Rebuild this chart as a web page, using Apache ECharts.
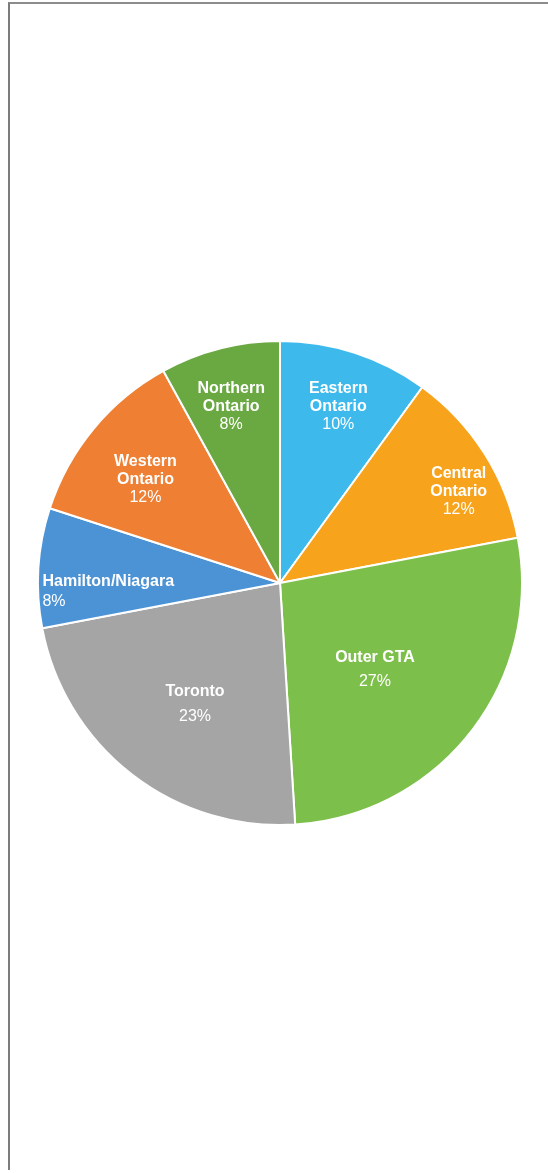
<!DOCTYPE html>
<html>
<head>
<meta charset="utf-8">
<script src="https://cdn.jsdelivr.net/npm/echarts@6/dist/echarts.min.js"></script>
<style>
  html, body { margin: 0; padding: 0; background: #fff; }
  #chart { width: 548px; height: 1173px; position: absolute; left: 0; top: 0; }
  #frame { position: absolute; left: 8px; top: 2px; width: 540px; height: 1168px;
           border-top: 2px solid #8c8c8c; border-left: 2px solid #7c7c7c; box-sizing: border-box; pointer-events: none; }
</style>
</head>
<body>
<div id="chart"></div>
<div id="frame"></div>
<script>
// Data (clockwise from 12 o'clock)
const regions = ['Eastern\nOntario', 'Central\nOntario', 'Outer GTA', 'Toronto', 'Hamilton/Niagara', 'Western\nOntario', 'Northern\nOntario'];
const shares = [10, 12, 27, 23, 8, 12, 8];

// Styling (not data)
const colors = ['#3DB9EC', '#F7A31C', '#7DBF4B', '#A5A5A5', '#4C93D6', '#EE7F33', '#6AA842'];
const labelShift = [[20, -58], [74, -25], [-3, 11], [-9, 23], [-48, 16], [-39, -24], [-18, -56]];
const lineHeights = [18, 18, 24, 25, 20, 18, 18];

const chart = echarts.init(document.getElementById('chart'), null, { renderer: 'canvas' });

const data = regions.map((name, i) => ({
  name: name,
  value: shares[i],
  itemStyle: { color: colors[i] },
  label: {
    rich: {
      n: { fontWeight: 'bold', fontSize: 16, color: '#fff', lineHeight: lineHeights[i], align: i === 4 ? 'left' : 'center', fontFamily: 'Liberation Sans, Arial, sans-serif' },
      p: { fontWeight: 'normal', fontSize: 16, color: '#fff', lineHeight: lineHeights[i], align: i === 4 ? 'left' : 'center', fontFamily: 'Liberation Sans, Arial, sans-serif' }
    }
  }
}));

chart.setOption({
  animation: false,
  series: [{
    type: 'pie',
    center: [280, 583],
    radius: [0, 242],
    startAngle: 90,
    clockwise: true,
    avoidLabelOverlap: false,
    itemStyle: { borderColor: '#ffffff', borderWidth: 2 },
    label: {
      show: true,
      position: 'inside',
      color: '#fff',
      formatter: function (p) {
        const lines = p.name.split('\n').map(s => '{n|' + s + '}');
        return lines.join('\n') + '\n{p|' + p.value + '%}';
      }
    },
    labelLine: { show: false },
    labelLayout: function (params) {
      const s = labelShift[params.dataIndex];
      return { dx: s[0], dy: s[1] };
    },
    emphasis: { disabled: true },
    data: data
  }]
});
</script>
</body>
</html>
